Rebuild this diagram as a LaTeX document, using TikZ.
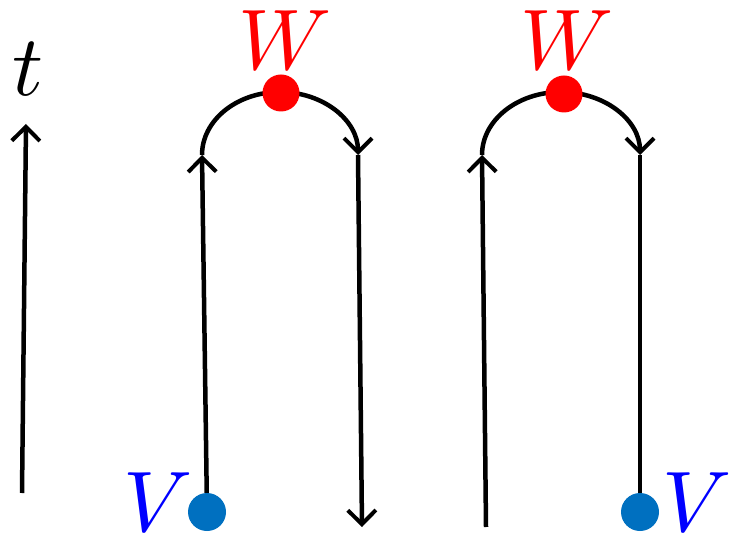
\documentclass[tikz,border=0pt]{standalone}
\usepackage{unicode-math}
\usetikzlibrary{arrows.meta}
\definecolor{dotblue}{RGB}{0,112,192}
\begin{document}
\begin{tikzpicture}[x=1pt,y=1pt]
\tikzset{
  line/.style={line width=4.5pt},
  arr/.style={line width=4.5pt, -{Straight Barb[length=14pt,width=28pt,line width=4pt]}},
  reddot/.style={circle,fill=red,inner sep=0pt,minimum size=37pt},
  bluedot/.style={circle,fill=dotblue,inner sep=0pt,minimum size=38pt},
  lab/.style={inner sep=0pt,font=\fontsize{86}{86}\selectfont}}
\useasboundingbox (0,0) rectangle (743,541);
% time axis
\coordinate (t0) at (22,48);
\coordinate (t1) at (26,417);
\draw[arr] (t0) -- (t1);
\node[lab] (tl) at (28,472) {$t$};
% diagram 1
\coordinate (a1) at (202,386);
\coordinate (b1) at (358,386);
\coordinate (e1) at (362,14);
\node[bluedot] (v1) at (207,29) {};
\draw[arr] (v1) -- (a1);
\draw[arr] (a1) arc[start angle=180,end angle=0,x radius=78,y radius=63];
\draw[arr] (b1) -- (e1);
\node[reddot] (w1) at (281,448) {};
\node[lab,text=red] (wl1) at (285,500) {$W$};
\node[lab,text=blue] (vl1) at (158,38) {$V$};
% diagram 2
\coordinate (s2) at (486,14);
\coordinate (a2) at (482,386);
\coordinate (b2) at (640,386);
\draw[arr] (s2) -- (a2);
\draw[arr] (a2) arc[start angle=180,end angle=0,x radius=79,y radius=63];
\node[bluedot] (v2) at (640,29) {};
\draw[line] (b2) -- (v2);
\node[reddot] (w2) at (564,447) {};
\node[lab,text=red] (wl2) at (567,500) {$W$};
\node[lab,text=blue] (vl2) at (697,38) {$V$};
\end{tikzpicture}
\end{document}
